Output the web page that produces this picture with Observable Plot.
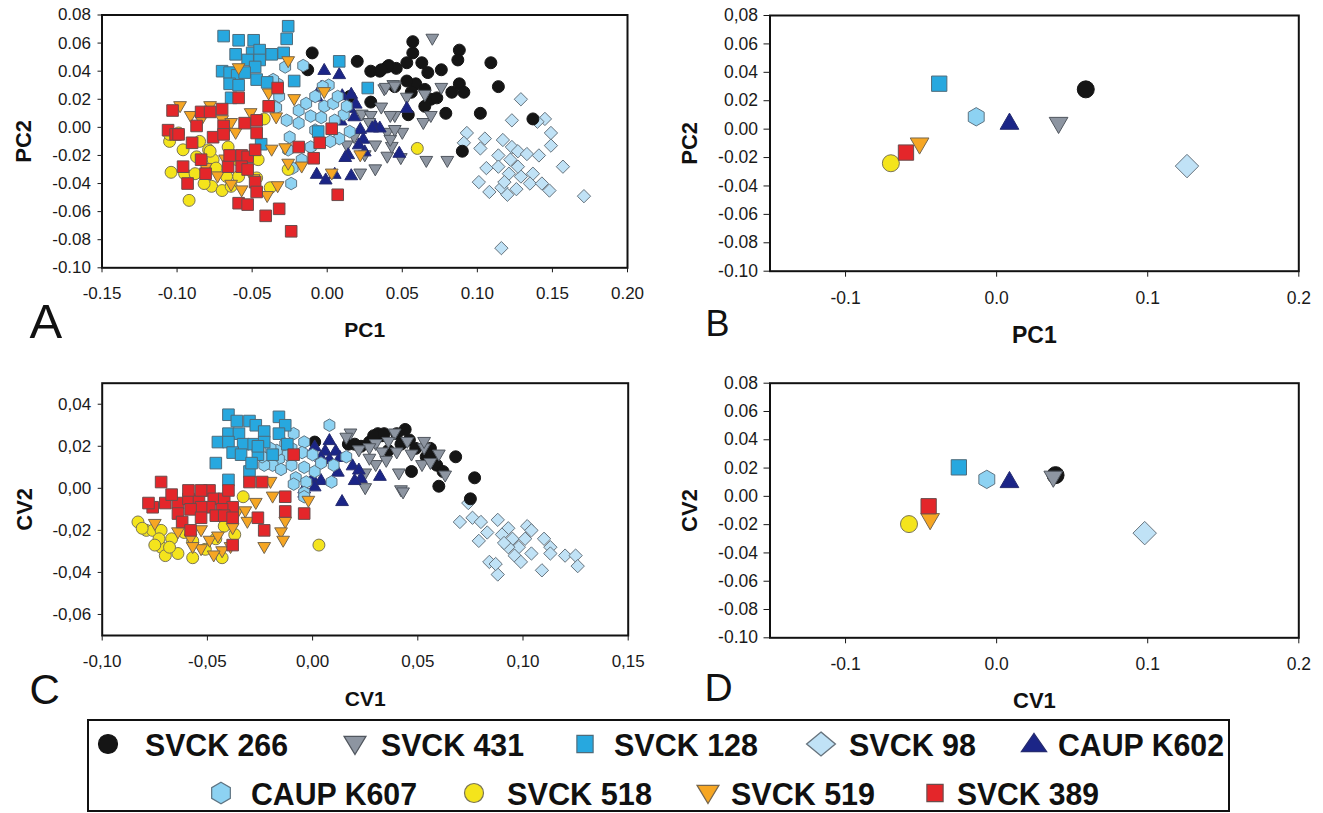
<!DOCTYPE html>
<html><head><meta charset="utf-8">
<script src="https://cdn.jsdelivr.net/npm/d3@7"></script>
<script src="https://cdn.jsdelivr.net/npm/@observablehq/plot@0.6"></script>
<style>
body{margin:0;background:#fff;}
#fig{position:relative;width:1323px;height:813px;overflow:hidden;font-family:"Liberation Sans",Arial,sans-serif;}
.panel{position:absolute;}
.panel svg{max-width:none;}
</style></head>
<body><div id="fig"></div>
<script>
const groups = ["SVCK 266","SVCK 431","SVCK 128","SVCK 98","CAUP K602","CAUP K607","SVCK 518","SVCK 519","SVCK 389"];

// ---- Panel A: PCA scores (PC1, PC2)
const pcaSVCK266 = [[-0.010,0.053],[0.020,0.047],[0.029,0.040],[0.035,0.040],[0.041,0.044],[0.046,0.042],[-0.013,0.041],[0.015,0.022],[0.029,0.018],[0.057,0.061],[0.057,0.053],[0.053,0.046],[0.040,0.043],[0.036,0.041],[0.063,0.046],[0.067,0.039],[0.059,0.031],[0.053,0.033],[0.056,0.025],[0.065,0.027],[0.069,0.020],[0.065,0.015],[0.054,0.009],[0.079,0.010],[0.083,0.025],[0.088,0.055],[0.087,0.048],[0.088,0.031],[0.091,0.025],[0.102,0.010],[0.109,0.046],[0.114,0.029],[0.137,0.006],[0.090,-0.017],[0.073,0.021],[0.076,0.041],[0.045,0.029]];
const pcaSVCK431 = [[0.070,0.063],[0.044,0.030],[0.038,0.027],[0.053,0.021],[0.045,0.008],[0.050,-0.004],[0.040,-0.004],[0.040,-0.021],[0.049,-0.022],[0.066,-0.024],[0.080,-0.024],[0.064,0.003],[0.069,0.008],[0.076,0.028],[0.065,0.023],[0.036,0.014],[0.043,-0.014],[0.039,0.028],[0.045,0.029],[0.023,0.009],[0.029,0.008],[0.042,0.008],[0.018,-0.007],[0.032,-0.013],[0.042,-0.009],[0.032,-0.030],[0.045,-0.002],[0.013,-0.013],[0.022,-0.033],[0.028,0.003],[0.025,-0.020]];
const pcaSVCK128 = [[-0.069,0.065],[-0.059,0.062],[-0.049,0.062],[-0.061,0.052],[-0.050,0.053],[-0.045,0.055],[-0.037,0.052],[-0.029,0.053],[-0.070,0.040],[-0.065,0.039],[-0.060,0.037],[-0.065,0.031],[-0.059,0.030],[-0.064,0.021],[-0.053,0.048],[-0.045,0.048],[-0.047,0.034],[-0.040,0.032],[-0.026,0.072],[-0.027,0.063],[-0.022,0.033],[0.008,0.047],[0.027,0.028],[-0.048,0.043],[-0.055,0.039],[-0.006,-0.003],[-0.044,-0.012]];
const pcaSVCK98 = [[0.129,0.020],[0.123,0.005],[0.145,0.006],[0.140,0.004],[0.149,-0.004],[0.149,-0.013],[0.093,-0.004],[0.091,-0.011],[0.102,-0.015],[0.105,-0.008],[0.114,-0.020],[0.117,-0.009],[0.123,-0.014],[0.127,-0.017],[0.133,-0.019],[0.141,-0.020],[0.106,-0.029],[0.114,-0.028],[0.121,-0.033],[0.129,-0.035],[0.137,-0.033],[0.101,-0.039],[0.108,-0.046],[0.116,-0.043],[0.120,-0.048],[0.135,-0.040],[0.143,-0.040],[0.148,-0.045],[0.157,-0.028],[0.171,-0.049],[0.116,-0.086],[0.122,-0.023],[0.127,-0.028],[0.118,-0.039],[0.126,-0.044]];
const pcaCAUPK602 = [[-0.002,0.041],[0.008,0.038],[-0.004,0.029],[-0.007,0.022],[0.010,0.023],[0.016,0.024],[0.019,0.017],[0.015,0.014],[0.009,0.005],[0.022,-0.001],[0.018,0.008],[0.024,-0.008],[0.032,0.001],[0.014,-0.019],[0.025,-0.017],[-0.007,-0.033],[-0.001,-0.037],[0.005,-0.033],[0.016,-0.034],[0.035,0.000],[0.053,0.014],[0.048,-0.018],[0.030,0.000],[0.012,-0.021],[0.021,-0.012]];
const pcaCAUPK607 = [[-0.028,0.043],[-0.016,0.044],[-0.033,0.031],[-0.034,0.014],[-0.027,0.005],[-0.019,0.012],[-0.014,0.017],[-0.011,0.008],[-0.002,0.015],[0.004,0.017],[0.001,0.030],[0.007,0.022],[0.011,0.009],[0.015,-0.003],[0.008,-0.008],[0.002,-0.010],[-0.019,0.003],[-0.008,-0.002],[-0.025,-0.007],[-0.017,-0.023],[-0.023,-0.029],[-0.032,0.022],[-0.003,0.029],[-0.008,0.022],[-0.026,-0.016],[-0.011,-0.014],[0.005,0.005],[-0.036,0.034],[-0.024,-0.040],[-0.004,0.007],[0.013,0.015]];
const pcaSVCK518 = [[-0.105,-0.010],[-0.099,-0.004],[-0.096,-0.016],[-0.104,-0.032],[-0.092,-0.052],[-0.095,-0.033],[-0.088,-0.033],[-0.087,-0.021],[-0.079,-0.016],[-0.076,-0.023],[-0.074,-0.029],[-0.077,-0.042],[-0.070,-0.045],[-0.064,-0.042],[-0.066,-0.014],[-0.060,-0.023],[-0.059,-0.035],[-0.067,-0.035],[-0.042,0.006],[-0.047,-0.036],[-0.038,-0.043],[-0.046,-0.023],[-0.026,-0.030],[0.060,-0.015],[-0.078,-0.017],[-0.085,-0.010],[-0.082,-0.040],[-0.105,-0.005]];
const pcaSVCK519 = [[-0.098,0.015],[-0.091,0.008],[-0.078,0.015],[-0.070,0.005],[-0.064,0.003],[-0.051,0.010],[-0.059,0.042],[-0.026,0.047],[-0.039,0.024],[-0.022,0.020],[-0.034,0.007],[-0.037,-0.016],[-0.028,-0.015],[-0.026,-0.026],[-0.017,-0.028],[-0.002,0.025],[0.003,-0.033],[0.022,-0.020],[-0.073,-0.035],[-0.064,-0.041],[-0.068,-0.023],[-0.061,-0.004],[-0.057,-0.045],[-0.040,-0.049],[-0.033,-0.042],[-0.049,-0.037],[-0.081,-0.029],[-0.084,0.005]];
const pcaSVCK389 = [[-0.103,0.012],[-0.106,-0.002],[-0.101,-0.005],[-0.099,-0.005],[-0.090,-0.011],[-0.087,0.001],[-0.084,0.011],[-0.078,0.011],[-0.070,0.013],[-0.069,0.001],[-0.076,-0.007],[-0.084,-0.023],[-0.081,-0.033],[-0.096,-0.028],[-0.093,-0.040],[-0.066,-0.028],[-0.057,-0.020],[-0.053,-0.021],[-0.057,-0.028],[-0.053,-0.030],[-0.048,-0.016],[-0.047,-0.004],[-0.047,0.005],[-0.055,0.003],[-0.059,0.021],[-0.033,0.028],[-0.039,0.015],[-0.048,-0.039],[-0.047,-0.046],[-0.059,-0.054],[-0.053,-0.055],[-0.041,-0.063],[-0.032,-0.058],[-0.024,-0.074],[-0.019,-0.014],[-0.005,-0.011],[0.003,-0.001],[-0.009,-0.022],[0.007,-0.048],[-0.069,-0.005],[-0.065,-0.020]];

// ---- Panel C: CVA scores (CV1, CV2)
const cvaSVCK266 = [[0.044,0.028],[0.046,0.023],[0.042,0.021],[0.040,0.026],[0.033,0.025],[0.027,0.022],[0.023,0.020],[0.049,0.019],[0.054,0.015],[0.059,0.011],[0.057,0.015],[0.062,0.008],[0.068,0.015],[0.060,0.001],[0.077,0.005],[0.075,-0.005],[0.047,0.008],[0.036,0.018],[0.031,0.026],[0.001,0.022],[0.017,0.021],[0.020,0.021],[0.029,0.025],[0.034,0.026],[0.056,0.019]];
const cvaSVCK431 = [[0.039,0.026],[0.030,0.021],[0.027,0.019],[0.033,0.017],[0.040,0.017],[0.047,0.016],[0.053,0.019],[0.060,0.016],[0.052,0.011],[0.041,0.007],[0.035,0.013],[0.030,0.011],[0.025,0.007],[0.025,0.000],[0.042,-0.001],[0.063,0.006],[0.053,0.022],[0.045,0.022],[0.018,0.026],[0.022,0.018],[0.027,0.014],[0.016,0.024],[0.043,-0.002],[0.056,0.012],[0.036,0.022]];
const cvaSVCK128 = [[-0.040,0.035],[-0.036,0.032],[-0.030,0.032],[-0.027,0.030],[-0.023,0.027],[-0.016,0.034],[-0.013,0.030],[-0.045,0.022],[-0.040,0.026],[-0.035,0.026],[-0.040,0.022],[-0.033,0.021],[-0.028,0.021],[-0.038,0.017],[-0.034,0.016],[-0.026,0.016],[-0.046,0.012],[-0.030,0.008],[-0.029,0.012],[-0.016,0.026],[-0.012,0.021],[-0.023,0.022],[-0.019,0.016],[-0.040,0.004],[-0.026,0.020]];
const cvaSVCK98 = [[0.074,-0.007],[0.070,-0.016],[0.076,-0.014],[0.080,-0.016],[0.083,-0.021],[0.079,-0.025],[0.088,-0.015],[0.093,-0.019],[0.090,-0.022],[0.095,-0.024],[0.102,-0.018],[0.104,-0.020],[0.101,-0.024],[0.098,-0.028],[0.093,-0.028],[0.096,-0.032],[0.099,-0.035],[0.104,-0.031],[0.110,-0.024],[0.113,-0.028],[0.113,-0.031],[0.120,-0.032],[0.125,-0.032],[0.126,-0.037],[0.109,-0.039],[0.084,-0.035],[0.088,-0.041],[0.087,-0.036],[0.091,-0.026]];
const cvaCAUPK602 = [[0.001,0.020],[0.006,0.018],[0.011,0.018],[0.004,0.015],[0.008,0.014],[0.013,0.015],[0.019,0.011],[0.022,0.009],[0.023,0.005],[0.000,0.005],[0.004,0.004],[-0.004,0.000],[0.001,0.001],[-0.004,-0.002],[0.014,-0.006],[0.020,0.004],[0.032,0.006],[0.008,0.023],[0.012,0.008]];
const cvaCAUPK607 = [[0.008,0.030],[-0.009,0.026],[-0.004,0.022],[-0.005,0.017],[-0.010,0.019],[-0.012,0.016],[-0.016,0.014],[-0.019,0.011],[-0.015,0.009],[-0.010,0.011],[-0.023,0.011],[-0.024,0.015],[0.000,0.016],[0.001,0.008],[0.004,0.012],[0.010,0.011],[0.016,0.015],[0.009,0.003],[-0.004,0.010],[-0.008,0.005],[-0.009,0.002],[-0.003,0.003],[-0.013,0.021],[-0.017,0.018],[-0.004,-0.002],[-0.004,-0.004],[-0.020,0.019]];
const cvaSVCK518 = [[-0.083,-0.016],[-0.079,-0.020],[-0.076,-0.020],[-0.072,-0.020],[-0.081,-0.019],[-0.072,-0.028],[-0.070,-0.032],[-0.073,-0.024],[-0.064,-0.031],[-0.061,-0.021],[-0.057,-0.025],[-0.051,-0.029],[-0.046,-0.024],[-0.043,-0.033],[-0.042,-0.018],[-0.037,-0.022],[-0.033,-0.004],[-0.067,-0.024],[0.003,-0.027],[-0.068,-0.028],[-0.057,-0.033],[-0.075,-0.027]];
const cvaSVCK519 = [[-0.075,-0.017],[-0.064,-0.021],[-0.058,-0.024],[-0.053,-0.020],[-0.049,-0.025],[-0.045,-0.023],[-0.043,-0.030],[-0.053,-0.029],[-0.057,-0.028],[-0.036,-0.012],[-0.031,-0.016],[-0.027,-0.007],[-0.020,0.003],[-0.019,-0.004],[-0.013,-0.016],[-0.015,-0.021],[-0.023,-0.028],[-0.014,-0.025],[-0.002,-0.006],[-0.032,-0.011],[-0.038,-0.019],[-0.047,-0.032],[-0.039,-0.028]];
const cvaSVCK389 = [[-0.072,0.003],[-0.076,-0.009],[-0.078,-0.007],[-0.070,-0.007],[-0.064,-0.007],[-0.059,-0.005],[-0.054,-0.006],[-0.049,-0.001],[-0.047,-0.005],[-0.042,-0.005],[-0.040,-0.001],[-0.038,-0.009],[-0.043,-0.010],[-0.049,-0.009],[-0.053,-0.009],[-0.058,-0.010],[-0.064,-0.012],[-0.062,-0.016],[-0.058,-0.020],[-0.053,-0.014],[-0.046,-0.013],[-0.042,-0.013],[-0.038,-0.014],[-0.053,-0.001],[-0.059,-0.001],[-0.030,0.003],[-0.024,0.003],[-0.026,-0.014],[-0.023,-0.020],[-0.038,-0.027],[-0.013,-0.004],[-0.013,-0.011],[-0.004,-0.012],[-0.009,0.016],[-0.067,-0.003]];

// ---- Panels B and D: group means, in the order of `groups`
const pcaMeans = [[0.059,0.028],[0.041,0.0035],[-0.038,0.032],[0.126,-0.026],[0.0085,0.0047],[-0.0135,0.0087],[-0.070,-0.024],[-0.051,-0.011],[-0.060,-0.0165]];
const cvaMeans = [[0.039,0.015],[0.0375,0.013],[-0.025,0.0205],[0.098,-0.026],[0.0085,0.011],[-0.0065,0.012],[-0.058,-0.0196],[-0.044,-0.017],[-0.045,-0.007]];

// ---- tick values and labels
const pcaXTicks = [-0.15,-0.10,-0.05,0,0.05,0.10,0.15,0.20];
const pcaXLabels = ["-0.15","-0.10","-0.05","0.00","0.05","0.10","0.15","0.20"];
const pcaYTicks = [0.08,0.06,0.04,0.02,0,-0.02,-0.04,-0.06,-0.08,-0.10];
const pcaYLabels = ["0.08","0.06","0.04","0.02","0.00","-0.02","-0.04","-0.06","-0.08","-0.10"];
const meanXTicks = [-0.1,0,0.1,0.2];
const meanXLabels = ["-0.1","0.0","0.1","0.2"];
const pcaMeanYLabels = ["0,08","0.06","0.04","0.02","0.00","-0.02","-0.04","-0.06","-0.08","-0.10"];
const cvaMeanYLabels = ["0.08","0.06","0.04","0.02","0.00","-0.02","-0.04","-0.06","-0.08","-0.10"];
const cvaXTicks = [-0.10,-0.05,0,0.05,0.10,0.15];
const cvaXLabels = ["-0,10","-0,05","0,00","0,05","0,10","0,15"];
const cvaYTicks = [0.04,0.02,0,-0.02,-0.04,-0.06];
const cvaYLabels = ["0,04","0,02","0,00","-0,02","-0,04","-0,06"];

// ---- styles
const shapeOf = {"SVCK 266":"circle","SVCK 431":"down","SVCK 128":"square","SVCK 98":"diamond","CAUP K602":"up","CAUP K607":"hex","SVCK 518":"circle","SVCK 519":"down","SVCK 389":"square"};
const fillOf = {"SVCK 266":"#151515","SVCK 431":"#8d95a1","SVCK 128":"#27a8df","SVCK 98":"#c0e2f6","CAUP K602":"#1b2587","CAUP K607":"#8dd2f2","SVCK 518":"#f4e41c","SVCK 519":"#f6a623","SVCK 389":"#e4262a"};
const strokeOf = {"SVCK 266":"#151515","SVCK 431":"#50565e","SVCK 128":"#4f6b7a","SVCK 98":"#66737d","CAUP K602":"#262c70","CAUP K607":"#5f7482","SVCK 518":"#7a7456","SVCK 519":"#76664e","SVCK 389":"#6b4c4c"};
const drawOrder = ["SVCK 98","SVCK 266","SVCK 431","CAUP K602","CAUP K607","SVCK 128","SVCK 518","SVCK 519","SVCK 389"];

function drawShape(ctx, kind, r) {
  switch (kind) {
    case "square": ctx.rect(-r, -r, 2*r, 2*r); break;
    case "diamond": ctx.moveTo(0,-1.15*r); ctx.lineTo(1.15*r,0); ctx.lineTo(0,1.15*r); ctx.lineTo(-1.15*r,0); ctx.closePath(); break;
    case "up": ctx.moveTo(0,-1.1*r); ctx.lineTo(1.1*r,0.8*r); ctx.lineTo(-1.1*r,0.8*r); ctx.closePath(); break;
    case "down": ctx.moveTo(0,1.1*r); ctx.lineTo(1.1*r,-0.8*r); ctx.lineTo(-1.1*r,-0.8*r); ctx.closePath(); break;
    case "hex": { const R = 1.08*r; for (let i = 0; i < 6; i++) { const a = Math.PI/3*i; const px = R*Math.sin(a), py = -R*Math.cos(a); if (i) ctx.lineTo(px,py); else ctx.moveTo(px,py);} ctx.closePath(); break; }
    default: ctx.moveTo(r,0); ctx.arc(0,0,r,0,2*Math.PI); ctx.closePath();
  }
}
function sym(kind, k) {
  return {draw(ctx, size) { drawShape(ctx, kind, Math.sqrt(size/Math.PI)*k); }};
}
const smallK = {circle:0.95, square:0.92, diamond:0.92, up:0.92, down:0.92, hex:0.92};
const bigK = {circle:1, square:0.9, diamond:1.2, up:1, down:1, hex:1};

function fmtMap(ticks, labels) { const m = new Map(ticks.map((t,i)=>[t, labels[i]])); return d => m.get(d); }

function makePanel(c) {
  const marks = [];
  for (const g of drawOrder) {
    const pts = c.series[g];
    marks.push(Plot.dot(pts, {x: d => d[0], y: d => d[1], r: c.r, symbol: sym(shapeOf[g], c.k[shapeOf[g]]), fill: fillOf[g], stroke: strokeOf[g], strokeWidth: 1}));
  }
  marks.push(Plot.frame({stroke: "#111", strokeWidth: 2}));
  marks.push(Plot.axisX({ticks: c.xTicks, tickFormat: fmtMap(c.xTicks, c.xLabels), tickSize: c.xTickSize, tickPadding: 14, label: null, fontSize: c.tickFont}));
  marks.push(Plot.axisY({ticks: c.yTicks, tickFormat: fmtMap(c.yTicks, c.yLabels), tickSize: c.yTickSize, tickPadding: c.yPad, label: null, fontSize: c.tickFont}));
  marks.push(Plot.text([c.xTitle], {text: d => d, frameAnchor: "bottom", dy: c.xTitleDy, lineAnchor: "bottom", fontWeight: "bold", fontSize: c.xTitleSize, fill: "#111"}));
  marks.push(Plot.text([c.yTitle], {text: d => d, frameAnchor: "left", dx: c.yTitleDx, rotate: -90, textAnchor: "middle", lineAnchor: "middle", fontWeight: "bold", fontSize: 22, fill: "#111"}));
  marks.push(Plot.text([c.letter], {text: d => d, frameAnchor: "bottom-left", dx: c.letterDx, dy: c.letterDy, textAnchor: "start", lineAnchor: "bottom", fontSize: c.letterSize, fill: "#111"}));
  const svg = Plot.plot({
    width: c.w, height: c.h,
    marginLeft: c.ml, marginRight: c.mr, marginTop: c.mt, marginBottom: c.mb,
    inset: 0,
    x: {domain: c.xd}, y: {domain: c.yd},
    style: {fontFamily: "'Liberation Sans', Arial, sans-serif", fontSize: "17px", color: "#1a1a1a", background: "transparent", overflow: "visible"},
    marks
  });
  const div = document.createElement("div");
  div.className = "panel";
  div.style.left = c.left + "px"; div.style.top = c.top + "px"; div.style.width = c.w + "px"; div.style.height = c.h + "px";
  div.appendChild(svg);
  document.getElementById("fig").appendChild(div);
}

const pcaSeries = {"SVCK 266":pcaSVCK266,"SVCK 431":pcaSVCK431,"SVCK 128":pcaSVCK128,"SVCK 98":pcaSVCK98,"CAUP K602":pcaCAUPK602,"CAUP K607":pcaCAUPK607,"SVCK 518":pcaSVCK518,"SVCK 519":pcaSVCK519,"SVCK 389":pcaSVCK389};
const cvaSeries = {"SVCK 266":cvaSVCK266,"SVCK 431":cvaSVCK431,"SVCK 128":cvaSVCK128,"SVCK 98":cvaSVCK98,"CAUP K602":cvaCAUPK602,"CAUP K607":cvaCAUPK607,"SVCK 518":cvaSVCK518,"SVCK 519":cvaSVCK519,"SVCK 389":cvaSVCK389};
const pcaMeanSeries = Object.fromEntries(groups.map((g,i) => [g, [pcaMeans[i]]]));
const cvaMeanSeries = Object.fromEntries(groups.map((g,i) => [g, [cvaMeans[i]]]));

makePanel({left:0, top:0, w:660, h:345, ml:101.5, mr:33, mt:14.5, mb:77.7,
  xd:[-0.15,0.20], yd:[-0.10,0.08], xTicks:pcaXTicks, xLabels:pcaXLabels, yTicks:pcaYTicks, yLabels:pcaYLabels,
  xTickSize:5, yTickSize:4, yPad:7, tickFont:17, series:pcaSeries, r:6.3, k:smallK,
  xTitle:"PC1", xTitleDy:68.7, xTitleSize:21, yTitle:"PC2", yTitleDx:-78, letter:"A", letterSize:49, letterDx:-72.5, letterDy:70});
makePanel({left:660, top:0, w:663, h:345, ml:109.5, mr:24.7, mt:15, mb:74.3,
  xd:[-0.15,0.20], yd:[-0.10,0.08], xTicks:meanXTicks, xLabels:meanXLabels, yTicks:pcaYTicks, yLabels:pcaMeanYLabels,
  xTickSize:6, yTickSize:6, yPad:6, tickFont:17.5, series:pcaMeanSeries, r:8.5, k:bigK,
  xTitle:"PC1", xTitleDy:71.3, xTitleSize:23, yTitle:"PC2", yTitleDx:-80, letter:"B", letterSize:36, letterDx:-64.5, letterDy:65});
makePanel({left:0, top:360, w:660, h:350, ml:101.7, mr:32.3, mt:22.7, mb:75,
  xd:[-0.10,0.15], yd:[-0.07,0.05], xTicks:cvaXTicks, xLabels:cvaXLabels, yTicks:cvaYTicks, yLabels:cvaYLabels,
  xTickSize:5.5, yTickSize:4, yPad:7, tickFont:17, series:cvaSeries, r:6.3, k:smallK,
  xTitle:"CV1", xTitleDy:70, xTitleSize:21, yTitle:"CV2", yTitleDx:-77, letter:"C", letterSize:42, letterDx:-72.7, letterDy:68});
makePanel({left:660, top:360, w:663, h:350, ml:109.5, mr:24.7, mt:22.7, mb:72.7,
  xd:[-0.15,0.20], yd:[-0.10,0.08], xTicks:meanXTicks, xLabels:meanXLabels, yTicks:pcaYTicks, yLabels:cvaMeanYLabels,
  xTickSize:6, yTickSize:6, yPad:6, tickFont:17.5, series:cvaMeanSeries, r:8.5, k:bigK,
  xTitle:"CV1", xTitleDy:70, xTitleSize:22, yTitle:"CV2", yTitleDx:-80, letter:"D", letterSize:39, letterDx:-65.5, letterDy:63});

// ---- legend (layout positions)
const legendItems = [
  {g:"SVCK 266", row:0, sx:108, tx:145, tw:143},
  {g:"SVCK 431", row:0, sx:355, tx:381, tw:143},
  {g:"SVCK 128", row:0, sx:585, tx:614, tw:144},
  {g:"SVCK 98", row:0, sx:821, tx:849, tw:127},
  {g:"CAUP K602", row:0, sx:1034, tx:1058, tw:166},
  {g:"CAUP K607", row:1, sx:221, tx:251, tw:166},
  {g:"SVCK 518", row:1, sx:474, tx:507, tw:145},
  {g:"SVCK 519", row:1, sx:708, tx:731, tw:144},
  {g:"SVCK 389", row:1, sx:935, tx:957, tw:142}
];
const legendK = {circle:1, square:0.9, diamond:1.1, up:1.0, down:1.0, hex:1.05};
const legendSX = {circle:1, square:0.95, diamond:1.2, up:1.2, down:1.05, hex:1.0};
const rowBase = [756, 805], rowMid = [744, 793];
const lsvg = d3.create("svg").attr("width",1323).attr("height",813)
  .style("position","absolute").style("left","0px").style("top","0px");
lsvg.append("rect").attr("x",88).attr("y",720).attr("width",1141).attr("height",91)
  .attr("fill","none").attr("stroke","#111").attr("stroke-width",2);
for (const it of legendItems) {
  const kind = shapeOf[it.g];
  const p = d3.path();
  drawShape(p, kind, 9.5*legendK[kind]);
  lsvg.append("path").attr("d", p.toString())
    .attr("transform", `translate(${it.sx},${rowMid[it.row]}) scale(${legendSX[kind]},1)`)
    .attr("fill", fillOf[it.g]).attr("stroke", strokeOf[it.g]).attr("stroke-width", 1.2);
  lsvg.append("text").attr("x", it.tx).attr("y", rowBase[it.row])
    .attr("font-family","'Liberation Sans', Arial, sans-serif").attr("font-weight","bold").attr("font-size",31)
    .attr("textLength", it.tw).attr("lengthAdjust","spacingAndGlyphs").attr("fill","#111")
    .text(it.g);
}
document.getElementById("fig").appendChild(lsvg.node());
</script>
</body></html>
